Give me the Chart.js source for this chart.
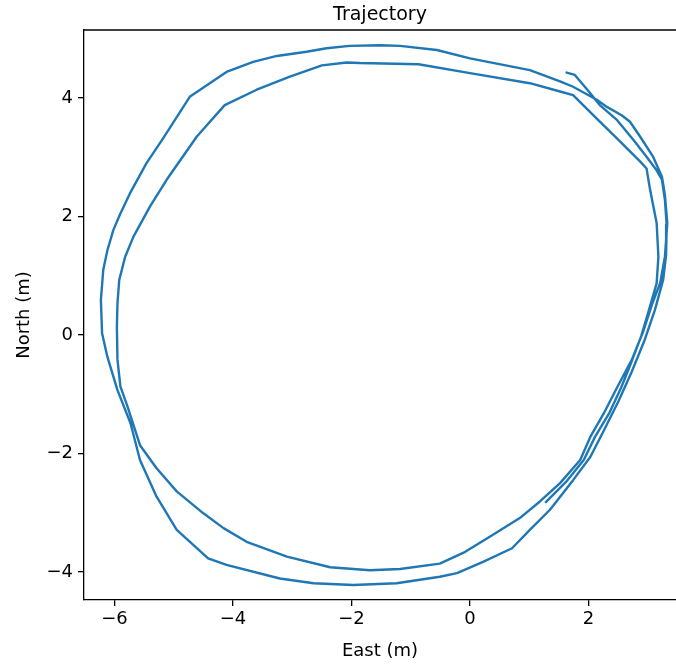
<!DOCTYPE html>
<html>
<head>
<meta charset="utf-8">
<title>Trajectory</title>
<script src="https://cdn.jsdelivr.net/npm/chart.js@4/dist/chart.umd.min.js"></script>
<style>
  html, body { margin: 0; padding: 0; background: #ffffff; }
  #wrap { width: 676px; height: 664px; }
</style>
</head>
<body>
<div id="wrap"><canvas id="chart" width="676" height="664"></canvas></div>
<script>
// Vehicle track: east / north offsets in metres, in recorded order.
const east = [
  1.63, 1.77, 2.03, 2.19, 2.48, 2.76, 2.98, 3.15, 3.24, 3.29, 3.32, 3.31, 3.26, 3.12, 2.95, 2.73,
  2.50, 2.24, 2.03, 1.74, 1.35, 1.01, 0.71, 0.22, -0.22, -0.51, -1.24, -1.97, -2.64, -3.21, -4.11,
  -4.42, -4.95, -5.29, -5.57, -5.73, -5.95, -6.12, -6.21, -6.23, -6.19, -6.12, -6.02, -5.91, -5.74,
  -5.46, -5.18, -4.73, -4.11, -3.66, -3.26, -2.76, -2.42, -2.03, -1.52, -1.18, -0.56, 0.00, 1.01,
  1.52, 1.74, 2.14, 2.31, 2.56, 2.70, 2.87, 3.09, 3.24, 3.29, 3.33, 3.29, 3.21, 3.07, 2.92, 2.73,
  2.48, 2.26, 2.03, 1.86, 1.52, 1.18, 0.84, 0.34, -0.08, -0.51, -1.18, -1.69, -2.36, -3.09, -3.77,
  -4.16, -4.50, -4.95, -5.29, -5.57, -5.78, -5.90, -5.95, -5.96, -5.95, -5.92, -5.82, -5.68, -5.40,
  -5.12, -4.61, -4.14, -3.60, -3.04, -2.50, -2.08, -1.86, -0.87, 0.00, 1.01, 1.52, 1.74, 2.08,
  2.48, 2.87, 2.98, 3.04, 3.15, 3.18, 3.15, 3.02, 2.89, 2.70, 2.55, 2.35, 2.11, 1.92, 1.62, 1.28
];
const north = [
  4.43, 4.39, 4.08, 3.88, 3.63, 3.29, 3.01, 2.78, 2.62, 2.28, 1.86, 1.35, 0.93, 0.42, -0.08, -0.62,
  -1.13, -1.65, -2.06, -2.45, -2.95, -3.29, -3.60, -3.83, -4.02, -4.08, -4.19, -4.22, -4.19, -4.11, -3.88,
  -3.77, -3.29, -2.73, -2.11, -1.49, -0.93, -0.37, 0.03, 0.59, 1.10, 1.43, 1.77, 2.03, 2.39,
  2.90, 3.32, 4.02, 4.44, 4.61, 4.71, 4.78, 4.84, 4.88, 4.89, 4.88, 4.81, 4.67, 4.47,
  4.28, 4.19, 3.97, 3.85, 3.71, 3.60, 3.35, 3.01, 2.67, 2.36, 1.89, 1.32, 0.88, 0.51, 0.05, -0.42,
  -0.89, -1.32, -1.72, -2.11, -2.50, -2.81, -3.09, -3.40, -3.66, -3.86, -3.95, -3.97, -3.92, -3.74, -3.49,
  -3.26, -3.01, -2.64, -2.25, -1.86, -1.21, -0.87, -0.42, 0.14, 0.54, 0.93, 1.32, 1.66, 2.17,
  2.62, 3.35, 3.88, 4.14, 4.36, 4.55, 4.60, 4.59, 4.57, 4.42, 4.25, 4.11, 4.05, 3.71,
  3.32, 2.93, 2.81, 2.45, 1.89, 1.32, 0.87, 0.42, -0.02, -0.52, -0.89, -1.32, -1.72, -2.11, -2.48, -2.82
];

// Axis limits and tick positions
const eastRange = [-6.515, 3.477];
const northRange = [-4.473, 5.148];
const eastTicks = [-6, -4, -2, 0, 2];
const northTicks = [-4, -2, 0, 2, 4];

const FONT = "'DejaVu Sans', 'Liberation Sans', sans-serif";
const INK = '#000000';

const points = east.map((e, i) => ({ x: e, y: north[i] }));

const minusLabel = v => (v < 0 ? '\u2212' + Math.abs(v) : String(v));

// Title above the plot plus the top spine of the axes box
const frameAndTitle = {
  id: 'frameAndTitle',
  afterDraw(chart) {
    const { ctx, chartArea: a } = chart;
    ctx.save();
    ctx.strokeStyle = INK;
    ctx.lineWidth = 1.3;
    ctx.beginPath();
    ctx.moveTo(a.left, a.top);
    ctx.lineTo(a.right, a.top);
    ctx.stroke();
    ctx.fillStyle = INK;
    ctx.font = '19px ' + FONT;
    ctx.textAlign = 'center';
    ctx.textBaseline = 'alphabetic';
    ctx.fillText('Trajectory', (a.left + a.right) / 2, a.top - 10);
    ctx.restore();
  }
};

new Chart(document.getElementById('chart'), {
  type: 'scatter',
  data: {
    datasets: [{
      label: 'Trajectory',
      data: points,
      showLine: true,
      borderColor: '#1f77b4',
      backgroundColor: '#1f77b4',
      borderWidth: 2.4,
      pointRadius: 0,
      pointHoverRadius: 0,
      tension: 0,
      borderJoinStyle: 'round',
      borderCapStyle: 'round'
    }]
  },
  options: {
    responsive: false,
    animation: false,
    devicePixelRatio: 1,
    layout: { padding: { top: 30, right: 0, bottom: 0, left: 0 } },
    plugins: {
      legend: { display: false },
      tooltip: { enabled: false },
      title: { display: false }
    },
    scales: {
      x: {
        type: 'linear',
        min: eastRange[0],
        max: eastRange[1],
        afterBuildTicks: s => { s.ticks = eastTicks.map(v => ({ value: v })); },
        afterFit: s => { s.height = 64; },
        grid: { display: true, drawOnChartArea: false, drawTicks: true, tickLength: 6, color: INK, lineWidth: 1.3 },
        border: { display: true, color: INK, width: 1.3 },
        ticks: { color: INK, font: { family: FONT, size: 18 }, padding: 3, maxRotation: 0, callback: minusLabel },
        title: { display: true, text: 'East (m)', color: INK, font: { family: FONT, size: 18 }, padding: { top: 4, bottom: 2.2 } }
      },
      y: {
        type: 'linear',
        min: northRange[0],
        max: northRange[1],
        afterBuildTicks: s => { s.ticks = northTicks.map(v => ({ value: v })); },
        afterFit: s => { s.width = 84; },
        grid: { display: true, drawOnChartArea: false, drawTicks: true, tickLength: 6, color: INK, lineWidth: 1.3 },
        border: { display: true, color: INK, width: 1.3 },
        ticks: { color: INK, font: { family: FONT, size: 18 }, padding: 5, callback: minusLabel },
        title: { display: true, text: 'North (m)', color: INK, font: { family: FONT, size: 18 }, padding: { top: 13.2, bottom: 4 } }
      }
    }
  },
  plugins: [frameAndTitle]
});
</script>
</body>
</html>
